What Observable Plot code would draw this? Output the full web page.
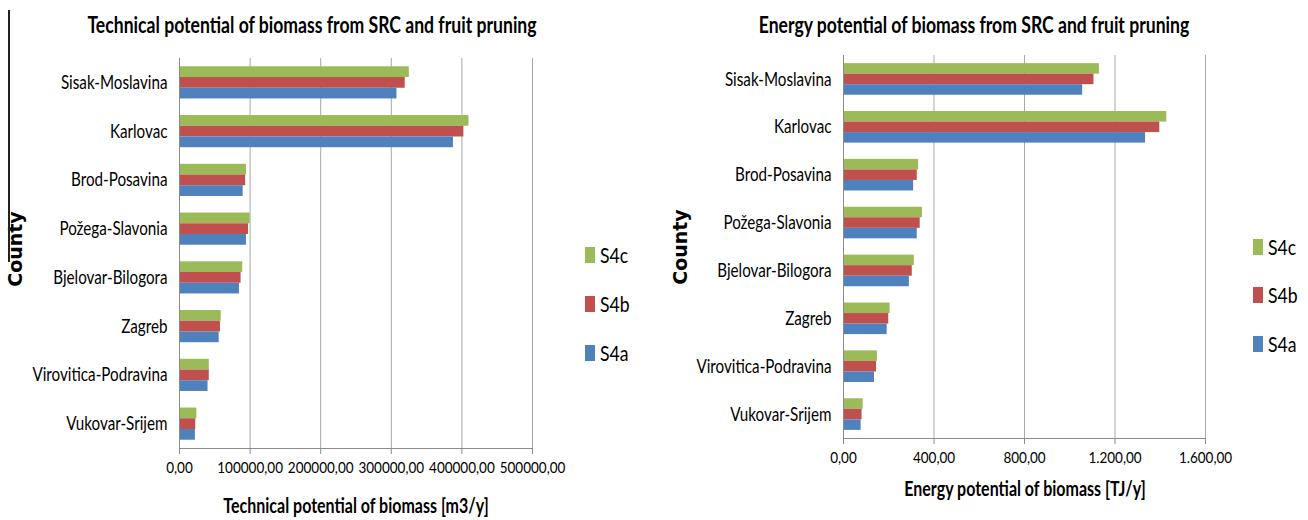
<!DOCTYPE html>
<html>
<head>
<meta charset="utf-8">
<script src="https://cdn.jsdelivr.net/npm/d3@7"></script>
<script src="https://cdn.jsdelivr.net/npm/@observablehq/plot@0.6"></script>
<style>
  body { margin: 0; background: #fff; }
  #root { position: relative; width: 1308px; height: 520px; overflow: hidden; background: #fff;
          font-family: Lato, 'Open Sans', sans-serif; color: #000; }
  .abs { position: absolute; white-space: nowrap; line-height: 1; }
  .title { font-weight: bold; font-size: 22px; transform: translate(-50%, -50%) scaleX(0.8); }
  .axtitle { font-weight: bold; font-size: 20px; transform: translate(-50%, -50%) scaleX(0.8); }
  .county { font-family: 'DejaVu Sans', sans-serif; font-weight: bold; font-size: 19px;
            transform: translate(-50%, -50%) rotate(-90deg); }
  .sw { position: absolute; width: 10px; height: 16px; transform: translateY(-50%); }
  .lt { position: absolute; font-size: 22px; line-height: 1; transform-origin: left center;
        transform: translateY(-50%) scaleX(0.8); white-space: nowrap; }
  svg { position: absolute; top: 0; }
</style>
</head>
<body>
<div id="root"></div>
<script>
const counties = ["Sisak-Moslavina", "Karlovac", "Brod-Posavina", "Požega-Slavonia",
                  "Bjelovar-Bilogora", "Zagreb", "Virovitica-Podravina", "Vukovar-Srijem"];
const series = ["S4c", "S4b", "S4a"];
const seriesColors = ["#9BBB59", "#C0504D", "#4F81BD"];

// Technical potential of biomass [m3/y]
const techS4a = [308000, 388000, 90200, 94800, 84900, 56200, 40400, 22500];
const techS4b = [319700, 402800, 93700, 97800, 87200, 58000, 42200, 23000];
const techS4c = [325500, 410000, 94800, 100100, 89600, 59100, 42200, 24600];
const techTicks = [0, 100000, 200000, 300000, 400000, 500000];

// Energy potential of biomass [TJ/y]
const energyS4a = [1057, 1335, 310, 326, 291, 193, 137, 78];
const energyS4b = [1107, 1398, 326, 339, 304, 200, 146, 82];
const energyS4c = [1131, 1429, 332, 349, 313, 206, 150, 87];
const energyTicks = [0, 400, 800, 1200, 1600];

const titles = ["Technical potential of biomass  from SRC and fruit pruning",
                "Energy potential of biomass  from SRC and fruit pruning"];
const axisTitles = ["Technical potential of biomass [m3/y]", "Energy potential of biomass [TJ/y]"];

const loc = d3.formatLocale({decimal: ",", thousands: ".", grouping: [3], currency: ["", ""]});
const fmtTech = loc.format(".2f");
const fmtEnergy = loc.format(",.2f");

const font = "Lato, 'Open Sans', sans-serif";

function chart({values, ticks, fmt, width, height, ml, mr, mt, mb, left}) {
  const rows = [];
  series.forEach(s => counties.forEach((c, i) => rows.push({county: c, series: s, value: values[s][i]})));
  const pi = 0.34, po = 0.17;
  const innerH = height - mt - mb;
  const step = innerH / (counties.length - pi + 2 * po);
  const sub = step * (1 - pi) / 3;
  const inset = {S4c: [0, 2 * sub], S4b: [sub, sub], S4a: [2 * sub, 0]};
  const svg = Plot.plot({
    width, height,
    marginLeft: ml, marginRight: mr, marginTop: mt, marginBottom: mb,
    style: {background: "transparent", color: "#8c8c8c", fontFamily: font, overflow: "visible"},
    x: {domain: [0, d3.max(ticks)], ticks, tickFormat: () => "", tickSize: 6, line: true, label: null},
    y: {domain: counties, paddingInner: pi, paddingOuter: po, round: false, axis: null},
    color: {domain: series, range: seriesColors},
    marks: [
      Plot.ruleX(ticks, {x: d => d, stroke: "#a8a8a8", strokeWidth: 1}),
      ...series.map(s => Plot.barX(rows.filter(r => r.series === s), {
        x: "value", y: "county", fill: "series",
        insetTop: inset[s][0], insetBottom: inset[s][1]
      })),
      Plot.ruleX([0], {stroke: "#8c8c8c"}),
      Plot.text(counties, {y: d => d, frameAnchor: "left", dx: -12, textAnchor: "end",
                           fill: "#000", fontSize: 19, className: "catlab"}),
      Plot.text(ticks, {x: d => d, text: fmt, frameAnchor: "bottom", dy: 24,
                        fill: "#000", fontSize: 15, className: "ticklab"})
    ]
  });
  svg.style.left = left + "px";
  return svg;
}

const root = document.getElementById("root");

const svgs = [
  chart({
    values: {S4a: techS4a, S4b: techS4b, S4c: techS4c}, ticks: techTicks, fmt: fmtTech,
    width: 650, height: 520, ml: 179, mr: 118, mt: 58, mb: 72, left: 0
  }),
  chart({
    values: {S4a: energyS4a, S4b: energyS4b, S4c: energyS4c}, ticks: energyTicks, fmt: fmtEnergy,
    width: 658, height: 520, ml: 193, mr: 103, mt: 55, mb: 82, left: 650
  })
];
svgs.forEach(s => root.appendChild(s));

// condense the SVG labels horizontally, like the squeezed source figure
function condense(sel, k) {
  svgs.forEach(svg => {
    svg.querySelectorAll(sel).forEach(t => {
      const w = t.getComputedTextLength();
      t.setAttribute("textLength", w * k);
      t.setAttribute("lengthAdjust", "spacingAndGlyphs");
    });
  });
}
condense(".catlab text", 0.8);
condense(".ticklab text", 0.9);

function addDiv(cls, text, x, y) {
  const d = document.createElement("div");
  d.className = "abs " + cls;
  d.textContent = text;
  d.style.left = x + "px";
  d.style.top = y + "px";
  root.appendChild(d);
  return d;
}
addDiv("title", titles[0], 312, 25);
addDiv("title", titles[1], 974, 25);
addDiv("axtitle", axisTitles[0], 356, 505);
addDiv("axtitle", axisTitles[1], 1025, 488);
addDiv("county", "County", 15, 249);
addDiv("county", "County", 680, 247);

// left edge line of the source figure
const edge = document.createElement("div");
edge.style.cssText = "position:absolute;left:8px;top:10px;width:1.5px;height:252px;background:#222;";
root.appendChild(edge);

function legend(x, ys) {
  series.forEach((s, i) => {
    const sw = document.createElement("div");
    sw.className = "sw";
    sw.style.left = x + "px";
    sw.style.top = ys[i] + "px";
    sw.style.background = seriesColors[i];
    root.appendChild(sw);
    const t = document.createElement("div");
    t.className = "lt";
    t.textContent = s;
    t.style.left = (x + 15) + "px";
    t.style.top = ys[i] + "px";
    root.appendChild(t);
  });
}
legend(585, [255, 304, 353]);
legend(1253, [247, 295, 344]);
</script>
</body>
</html>
